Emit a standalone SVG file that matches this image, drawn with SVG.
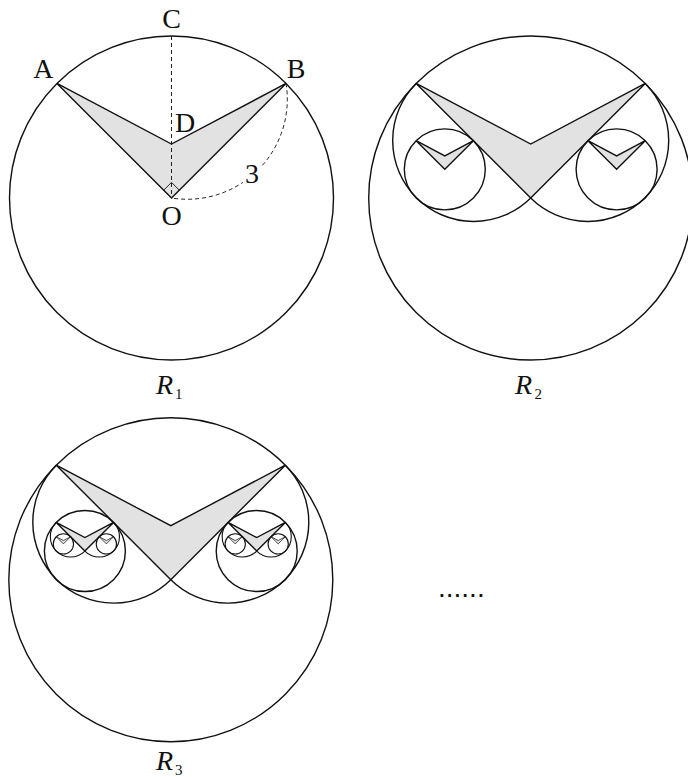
<svg xmlns="http://www.w3.org/2000/svg" width="688" height="777" viewBox="0 0 688 777">
<style>
.c{fill:none;stroke:#111;stroke-width:1.4}
.v{fill:#e2e2e2;stroke:#111;stroke-width:1.4;stroke-linejoin:miter}
.ct{fill:none;stroke:#111;stroke-width:1.1}
.vt{fill:#e2e2e2;stroke:#222;stroke-width:0.8}
.dash{fill:none;stroke:#222;stroke-width:1;stroke-dasharray:4 3}
.thin{fill:none;stroke:#111;stroke-width:0.9}
.lbl{font-family:"Liberation Serif","Times New Roman",serif;font-size:28px;fill:#111;text-anchor:middle}
.rl{font-family:"Liberation Serif","Times New Roman",serif;font-size:28px;font-style:italic;fill:#111}
.sub{font-size:15px;font-style:normal}
.dots{font-family:"Liberation Sans",Arial,sans-serif;font-size:28px;fill:#111}
</style>
<rect width="688" height="777" fill="#fff"/>

<!-- R1 -->
<g id="fig-R1">
  <polygon class="v" points="56.95,83.45 171.5,144 286.05,83.45 171.5,198"/>
  <circle class="c" cx="171.5" cy="198" r="162"/>
  <polyline class="thin" points="163.7,190.2 171.5,182.4 179.3,190.2"/>
</g>

<g id="connectors">
  <line class="dash" x1="171.5" y1="36" x2="171.5" y2="198"/>
  <path class="dash" d="M286.05,83.45 A100,100 0 0 1 171.5,198"/>
</g>

<g id="labels-R1">
  <rect x="243" y="160" width="18" height="26" fill="#fff"/>
  <text class="lbl" x="171.5" y="28">C</text>
  <text class="lbl" x="43.3" y="78.3">A</text>
  <text class="lbl" x="296" y="78.3">B</text>
  <text class="lbl" x="185" y="131.7">D</text>
  <text class="lbl" x="171.7" y="224.5">O</text>
  <text class="lbl" x="252" y="182.5">3</text>
  <text class="rl" x="156" y="394">R<tspan class="sub" x="175" y="398.5">1</tspan></text>
</g>

<!-- R2 -->
<g id="fig-R2">
  <polygon class="v" points="416.15,83.45 530.7,144 645.25,83.45 530.7,198"/>
  <circle class="c" cx="530.7" cy="198" r="162"/>
  <path class="c" d="M416.15,83.45 A81,81 0 0 0 530.7,198"/>
  <path class="c" d="M530.7,198 A81,81 0 0 0 645.25,83.45"/>
  <g id="R2-left">
    <polygon class="v" points="416.15,140.72 444.79,155.86 473.43,140.72 444.79,169.36"/>
    <circle class="c" cx="444.79" cy="169.36" r="40.5"/>
  </g>
  <g id="R2-right">
    <polygon class="v" points="587.97,140.72 616.61,155.86 645.25,140.72 616.61,169.36"/>
    <circle class="c" cx="616.61" cy="169.36" r="40.5"/>
  </g>
  <text class="rl" x="515" y="394">R<tspan class="sub" x="534.5" y="398.5">2</tspan></text>
</g>

<!-- R3 -->
<g id="fig-R3">
  <polygon class="v" points="56.25,465.15 170.8,525.7 285.35,465.15 170.8,579.7"/>
  <circle class="c" cx="170.8" cy="579.7" r="162"/>
  <path class="c" d="M56.25,465.15 A81,81 0 0 0 170.8,579.7"/>
  <path class="c" d="M170.8,579.7 A81,81 0 0 0 285.35,465.15"/>
  <g id="R3-left">
    <polygon class="v" points="56.25,522.42 84.89,537.56 113.53,522.42 84.89,551.06"/>
    <circle class="c" cx="84.89" cy="551.06" r="40.5"/>
    <path class="ct" d="M56.25,522.42 A20.25,20.25 0 0 0 84.89,551.06"/>
    <path class="ct" d="M84.89,551.06 A20.25,20.25 0 0 0 113.53,522.42"/>
    <polygon class="vt" points="56.25,536.74 63.41,540.53 70.57,536.74 63.41,543.9"/>
    <circle class="ct" cx="63.41" cy="543.9" r="10.125"/>
    <polygon class="vt" points="99.21,536.74 106.37,540.53 113.53,536.74 106.37,543.9"/>
    <circle class="ct" cx="106.37" cy="543.9" r="10.125"/>
  </g>
  <g id="R3-right">
    <polygon class="v" points="228.07,522.42 256.71,537.56 285.35,522.42 256.71,551.06"/>
    <circle class="c" cx="256.71" cy="551.06" r="40.5"/>
    <path class="ct" d="M228.07,522.42 A20.25,20.25 0 0 0 256.71,551.06"/>
    <path class="ct" d="M256.71,551.06 A20.25,20.25 0 0 0 285.35,522.42"/>
    <polygon class="vt" points="228.07,536.74 235.23,540.53 242.39,536.74 235.23,543.9"/>
    <circle class="ct" cx="235.23" cy="543.9" r="10.125"/>
    <polygon class="vt" points="271.03,536.74 278.19,540.53 285.35,536.74 278.19,543.9"/>
    <circle class="ct" cx="278.19" cy="543.9" r="10.125"/>
  </g>
  <text class="rl" x="156" y="770">R<tspan class="sub" x="175" y="774.5">3</tspan></text>
</g>

<text class="dots" x="438" y="596.5">......</text>
</svg>
